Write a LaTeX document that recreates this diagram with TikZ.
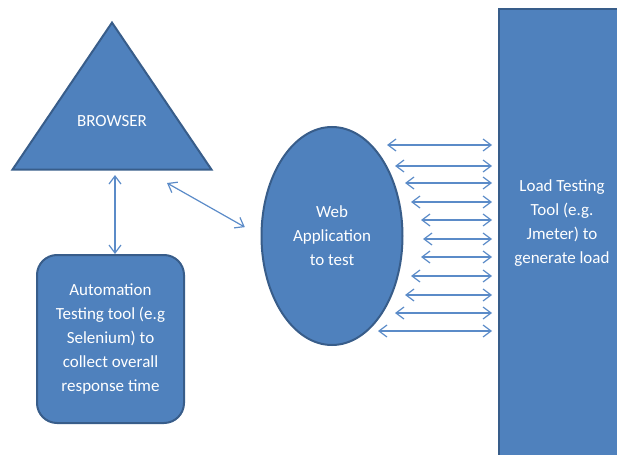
\documentclass[tikz,border=0pt]{standalone}
\usepackage{fontspec}
\setmainfont{Carlito}
\usetikzlibrary{shapes.geometric,arrows.meta,positioning}
\definecolor{boxblue}{HTML}{4F81BD}
\definecolor{edgeblue}{HTML}{385D8A}
\definecolor{arrowblue}{HTML}{5B8BC8}

\tikzset{
  block/.style={fill=boxblue, draw=edgeblue, line width=1pt, text=white,
    font=\fontsize{8.5}{12}\selectfont, align=center, inner sep=0pt},
  label text/.style={text=white, font=\fontsize{8.5}{12}\selectfont, align=center},
  dbl/.style={arrowblue, line width=0.6pt,
    {Straight Barb[length=4pt,width=6pt]}-{Straight Barb[length=4pt,width=6pt]}}
}

\begin{document}
\begin{tikzpicture}[x=0.5pt,y=-0.5pt]
\useasboundingbox (0,0) rectangle (617,455);

% Browser
\node[block, isosceles triangle, shape border rotate=90, isosceles triangle stretches,
  minimum width=99.5pt, minimum height=73.5pt, anchor=apex] (browser) at (112,20) {};
\node[label text] (browsertext) at (112,121) {BROWSER};

% Automation tool
\node[block, rounded corners=10pt, minimum width=73.5pt, minimum height=84pt] (auto) at (110.5,339)
  {Automation\\Testing tool (e.g\\Selenium) to\\collect overall\\response time};

% Web application
\node[block, ellipse, minimum width=70.5pt, minimum height=109pt] (web) at (332,236)
  {Web\\Application\\to test};

% Load testing tool
\node[block, anchor=north west, minimum width=64pt, minimum height=240pt] (load) at (498,8) {};
\node[label text] (loadtext) at (562,223) {Load Testing\\Tool (e.g.\\Jmeter) to\\generate load};

% Connectors
\coordinate (bt) at (115,175);
\draw[dbl] (bt) -- (bt |- auto.north);
\coordinate (dg) at (167,183);
\draw[dbl, shorten >=9pt] (dg) -- (web.west);

% Load arrows
\foreach \y/\lx [count=\i] in {145/387, 166/395, 183/405, 202/411, 220/421, 239/423,
    257/421, 276/411, 295/405, 313/395, 331/378} {
  \coordinate (w\i) at (\lx,\y);
  \draw[dbl, shorten >=3pt] (w\i) -- (load.west |- w\i);
}
\end{tikzpicture}
\end{document}
